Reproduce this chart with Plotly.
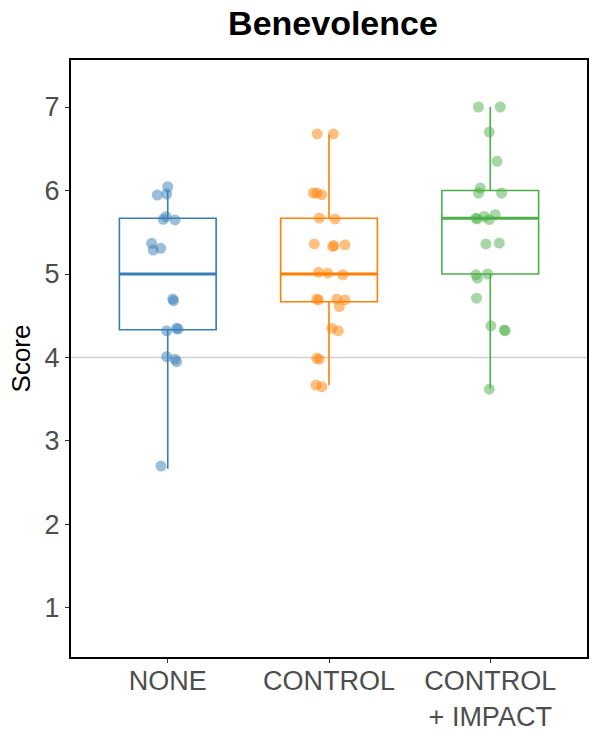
import plotly.graph_objects as go

categories = ["NONE", "CONTROL", "CONTROL<br>+ IMPACT"]
colors = ["#377eb8", "#ff7f00", "#4daf4a"]

# box statistics per group
q1 = [4.333, 4.667, 5.0]
median = [5.0, 5.0, 5.667]
q3 = [5.667, 5.667, 6.0]
lower = [2.667, 3.667, 3.63]
upper = [6.0, 6.667, 7.0]

# jittered points (score, horizontal jitter offset)
none_y = [6.045, 5.946, 5.958, 5.655, 5.687, 5.647, 5.367, 5.287, 5.307, 4.70, 4.68,
          4.32, 4.35, 4.34, 4.01, 3.98, 3.95, 2.70]
none_dx = [0.0, -0.065, -0.007, -0.028, -0.011, 0.045, -0.10, -0.09, -0.044, 0.031, 0.036,
           -0.007, 0.055, 0.064, -0.007, 0.045, 0.055, -0.042]
control_y = [6.677, 6.677, 5.97, 5.97, 5.95, 5.67, 5.66, 5.36, 5.33, 5.34, 5.35, 5.02, 5.01,
             4.99, 4.70, 4.69, 4.70, 4.69, 4.61, 4.35, 4.32, 3.99, 3.98, 3.67, 3.65]
control_dx = [-0.073, 0.027, -0.097, -0.076, -0.045, -0.06, 0.037, -0.091, 0.023, 0.031, 0.099,
              -0.066, -0.008, 0.085, -0.076, -0.065, 0.048, 0.099, 0.064, 0.017, 0.058, -0.076,
              -0.06, -0.081, -0.045]
impact_y = [7.0, 7.0, 6.70, 6.35, 6.03, 5.97, 5.97, 5.67, 5.66, 5.69, 5.65, 5.71, 5.36, 5.37,
            4.99, 4.95, 5.00, 4.71, 4.38, 4.33, 4.32, 3.62]
impact_dx = [-0.073, 0.062, -0.006, 0.042, -0.062, -0.073, 0.07, -0.089, -0.081, -0.037, -0.006,
             0.031, -0.027, 0.056, -0.089, -0.079, -0.017, -0.085, 0.004, 0.087, 0.093, -0.006]

points_y = [none_y, control_y, impact_y]
points_dx = [none_dx, control_dx, impact_dx]

y_ticks = [1, 2, 3, 4, 5, 6, 7]
ref_line = 4
box_width = 0.6

fig = go.Figure()

for i in range(3):
    fig.add_trace(go.Box(
        x=[i], q1=[q1[i]], median=[median[i]], q3=[q3[i]],
        lowerfence=[lower[i]], upperfence=[upper[i]],
        width=box_width, whiskerwidth=0,
        line=dict(color=colors[i], width=1.6),
        fillcolor="rgba(255,255,255,0)",
        boxpoints=False, showlegend=False, hoverinfo="skip",
    ))
    fig.add_trace(go.Scatter(
        x=[i - box_width / 2, i + box_width / 2], y=[median[i], median[i]],
        mode="lines", line=dict(color=colors[i], width=3),
        showlegend=False, hoverinfo="skip",
    ))

for i in range(3):
    fig.add_trace(go.Scatter(
        x=[i + d for d in points_dx[i]], y=points_y[i],
        mode="markers",
        marker=dict(color=colors[i], size=11, opacity=0.5, line=dict(width=0)),
        showlegend=False,
    ))

fig.add_hline(y=ref_line, line=dict(color="#d0d0d0", width=1.5), layer="below")

fig.update_layout(
    width=600, height=750,
    margin=dict(l=71, r=13, t=60, b=93),
    plot_bgcolor="white", paper_bgcolor="white",
    font=dict(family="Liberation Sans, Arial, sans-serif", color="#000000"),
    title=dict(text="<b>Benevolence</b>", x=0.555, xanchor="center", y=0.969, yanchor="middle",
               font=dict(size=34, color="black")),
    xaxis=dict(
        range=[-0.6, 2.6], tickmode="array", tickvals=[0, 1, 2], ticktext=categories,
        showgrid=False, zeroline=False, ticks="outside", ticklen=4, tickcolor="#333333",
        tickfont=dict(size=27, color="#4d4d4d"), ticklabelstandoff=-5,
        showline=True, linecolor="black", linewidth=2, mirror=True,
    ),
    yaxis=dict(
        range=[0.413, 7.563], tickmode="array", tickvals=y_ticks,
        showgrid=False, zeroline=False, ticks="outside", ticklen=4, tickcolor="#333333",
        tickfont=dict(size=27, color="#4d4d4d"),
        title=dict(text="Score", font=dict(size=26, color="black"), standoff=6),
        showline=True, linecolor="black", linewidth=2, mirror=True,
    ),
)

fig.write_html("out.html")
